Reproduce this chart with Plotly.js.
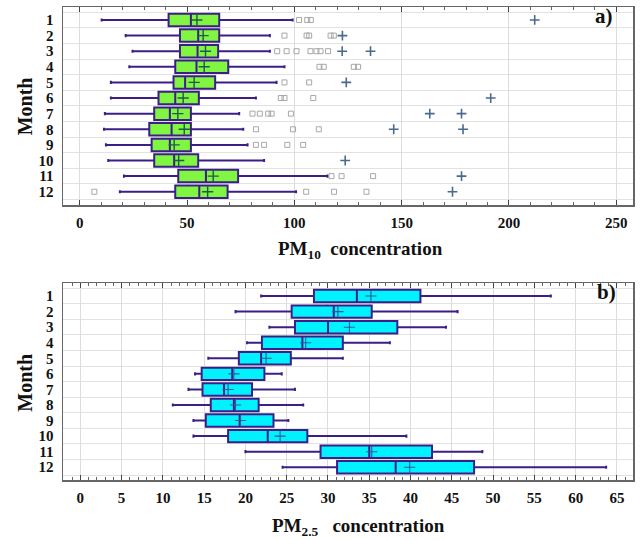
<!DOCTYPE html>
<html>
<head>
<meta charset="utf-8">
<script src="https://cdn.plot.ly/plotly-3.0.1.min.js"></script>
<style>html,body{margin:0;padding:0;background:#fff;}#chart{width:640px;height:540px;}</style>
</head>
<body>
<div id="chart"></div>
<script>
var months = [1,2,3,4,5,6,7,8,9,10,11,12];
var monthLabels = ['1','2','3','4','5','6','7','8','9','10','11','12'];

// PM10 (panel a)
var pm10_lower  = [10.2, 21.4, 24.6, 23.1, 14.5, 14.5, 11.7, 11.3, 12.2, 13.3, 20.6, 18.7];
var pm10_q1     = [41.4, 46.7, 46.7, 44.5, 43.7, 36.7, 34.7, 32.4, 33.5, 34.7, 45.9, 44.5];
var pm10_median = [51.8, 55.2, 54.9, 54.4, 49.1, 44.5, 42.0, 42.8, 42.0, 44.0, 58.8, 55.7];
var pm10_mean   = [54.6, 57.5, 58.6, 58.0, 53.3, 48.2, 45.7, 48.7, 44.0, 46.1, 62.2, 59.6];
var pm10_q3     = [65.0, 65.0, 64.5, 69.2, 63.1, 55.5, 51.8, 51.8, 51.8, 55.2, 73.8, 68.9];
var pm10_upper  = [99.2, 88.6, 88.6, 95.4, 91.7, 82.1, 74.3, 76.2, 78.2, 85.9, 115.5, 100.8];

var pm10_outlier_month = [1,1,1, 2,2,2,2,2, 3,3,3,3,3,3,3, 4,4,4,4, 5,5, 6,6,6, 7,7,7,7,7, 8,8,8, 9,9,9,9, 11,11,11, 12,12,12,12];
var pm10_outlier_value = [102.2,106.0,107.7, 95.4,105.7,106.9,116.9,118.4, 92.0,96.4,101.0,107.5,110.3,112.2,115.7, 111.7,113.7,127.7,129.7, 95.4,106.9, 93.7,95.4,108.8, 80.5,83.9,87.8,89.4,98.4, 82.1,99.4,111.4, 82.1,85.9,96.7,104.1, 117.3,122.0,136.7, 6.8,105.5,118.5,133.6];

var pm10_extreme_month = [1, 2, 3, 3, 5, 6, 7, 7, 8, 8, 10, 11, 12];
var pm10_extreme_value = [212.0, 122.4, 122.3, 135.5, 124.2, 191.5, 163.1, 177.9, 146.3, 178.6, 123.7, 177.9, 173.7];

// PM2.5 (panel b)
var pm25_lower  = [21.9, 18.8, 22.9, 20.2, 15.5, 13.9, 13.1, 11.2, 13.7, 13.7, 20.0, 24.5];
var pm25_q1     = [28.3, 25.6, 26.0, 22.0, 19.2, 14.7, 14.8, 15.8, 15.2, 17.9, 29.1, 31.1];
var pm25_median = [33.5, 30.7, 30.0, 26.9, 21.9, 18.4, 17.4, 18.6, 19.3, 22.7, 35.0, 38.2];
var pm25_mean   = [35.2, 31.2, 32.6, 27.3, 22.5, 18.6, 17.9, 18.8, 19.4, 24.2, 35.3, 39.9];
var pm25_q3     = [41.2, 35.3, 38.4, 31.8, 25.5, 22.3, 20.8, 21.6, 23.4, 27.5, 42.6, 47.7];
var pm25_upper  = [57.0, 45.7, 44.3, 37.5, 31.8, 24.4, 26.0, 27.0, 25.2, 39.5, 48.7, 63.7];

var boxLine = '#3c1f86';
var serif = 'Liberation Serif';

function boxTrace(q1, med, q3, lo, hi, fill, xa, ya) {
  return {
    type: 'box', orientation: 'h', y: months,
    q1: q1, median: med, q3: q3, lowerfence: lo, upperfence: hi,
    boxpoints: false, width: 0.8, whiskerwidth: 0.25,
    fillcolor: fill, line: {color: boxLine, width: 2},
    xaxis: xa, yaxis: ya, showlegend: false, hoverinfo: 'skip'
  };
}
function markTrace(x, y, symbol, size, color, lw, xa, ya) {
  return {
    type: 'scatter', mode: 'markers', x: x, y: y,
    marker: {symbol: symbol, size: size, color: color, line: {color: color, width: lw}},
    xaxis: xa, yaxis: ya, showlegend: false, hoverinfo: 'skip', cliponaxis: false
  };
}

var data = [
  boxTrace(pm10_q1, pm10_median, pm10_q3, pm10_lower, pm10_upper, '#80f542', 'x', 'y'),
  markTrace(pm10_outlier_value, pm10_outlier_month, 'square-open', 5, '#a8a8a8', 1, 'x', 'y'),
  markTrace(pm10_extreme_value, pm10_extreme_month, 'cross-thin', 7, '#4a6a90', 1.6, 'x', 'y'),
  markTrace(pm10_mean, months, 'cross-thin', 8, '#1f5a4a', 1.4, 'x', 'y'),
  boxTrace(pm25_q1, pm25_median, pm25_q3, pm25_lower, pm25_upper, '#00f2ff', 'x2', 'y2'),
  markTrace(pm25_mean, months, 'cross-thin', 8, '#2a5a9a', 1.1, 'x2', 'y2')
];

var L = 63.3, R = 632.7, T = 7, B = 480;
function xp(px) { return (px - L) / (R - L); }
function yp(py) { return (B - py) / (B - T); }

function xaxisCfg(range, dtick, mdtick, anchor) {
  return {
    range: range, dtick: dtick, tick0: 0, anchor: anchor,
    ticks: 'inside', ticklen: 5, tickwidth: 1, tickcolor: '#444',
    minor: {dtick: mdtick, tick0: 0, ticks: 'inside', ticklen: 3, tickcolor: '#666', showgrid: false},
    showgrid: true, gridcolor: '#dcdcdc', gridwidth: 1,
    showline: true, linecolor: '#666', linewidth: 1.5, mirror: 'allticks',
    zeroline: false, tickfont: {family: serif, size: 15, color: '#111', weight: 'bold'},
    ticklabelstandoff: 3, fixedrange: true
  };
}
function yaxisCfg(range, domain, anchor) {
  return {
    range: range, domain: domain, anchor: anchor,
    tickmode: 'array', tickvals: months, ticktext: monthLabels,
    ticks: '', showgrid: false, zeroline: false,
    minor: {tickmode: 'linear', tick0: 0.5, dtick: 1, ticks: '', showgrid: true, gridcolor: '#e2e2e2', gridwidth: 1},
    showline: true, linecolor: '#666', linewidth: 1.5, mirror: true,
    tickfont: {family: serif, size: 15, color: '#111', weight: 'bold'},
    ticklabelstandoff: 5, fixedrange: true
  };
}

var layout = {
  width: 640, height: 540,
  margin: {l: L, r: 640 - R, t: T, b: 540 - B},
  paper_bgcolor: '#ffffff', plot_bgcolor: '#ffffff',
  font: {family: serif},
  showlegend: false,
  xaxis: xaxisCfg([-7.8, 257.8], 50, 10, 'y'),
  yaxis: yaxisCfg([12.85, 0.17], [yp(205), 1], 'x'),
  xaxis2: xaxisCfg([-2.1, 66.95], 5, 1, 'y2'),
  yaxis2: yaxisCfg([12.82, 0.18], [0, yp(283.3)], 'x2'),
  annotations: [
    {xref: 'paper', yref: 'paper', x: xp(360), y: yp(250), text: 'PM<sub>10</sub>  concentration', showarrow: false,
     font: {family: serif, size: 19, color: '#111', weight: 'bold'}, xanchor: 'center', yanchor: 'middle'},
    {xref: 'paper', yref: 'paper', x: xp(358), y: yp(526.7), text: 'PM<sub>2.5</sub>   concentration', showarrow: false,
     font: {family: serif, size: 19, color: '#111', weight: 'bold'}, xanchor: 'center', yanchor: 'middle'},
    {xref: 'paper', yref: 'paper', x: xp(25), y: yp(106.7), text: 'Month', textangle: -90, showarrow: false,
     font: {family: serif, size: 20, color: '#111', weight: 'bold'}, xanchor: 'center', yanchor: 'middle'},
    {xref: 'paper', yref: 'paper', x: xp(25), y: yp(383), text: 'Month', textangle: -90, showarrow: false,
     font: {family: serif, size: 20, color: '#111', weight: 'bold'}, xanchor: 'center', yanchor: 'middle'},
    {xref: 'paper', yref: 'paper', x: xp(604), y: yp(16), text: 'a)', showarrow: false,
     font: {family: serif, size: 21, color: '#111', weight: 'bold'}, xanchor: 'center', yanchor: 'middle'},
    {xref: 'paper', yref: 'paper', x: xp(606), y: yp(292), text: 'b)', showarrow: false,
     font: {family: serif, size: 21, color: '#111', weight: 'bold'}, xanchor: 'center', yanchor: 'middle'}
  ]
};

Plotly.newPlot('chart', data, layout, {staticPlot: true, displayModeBar: false});
</script>
</body>
</html>
